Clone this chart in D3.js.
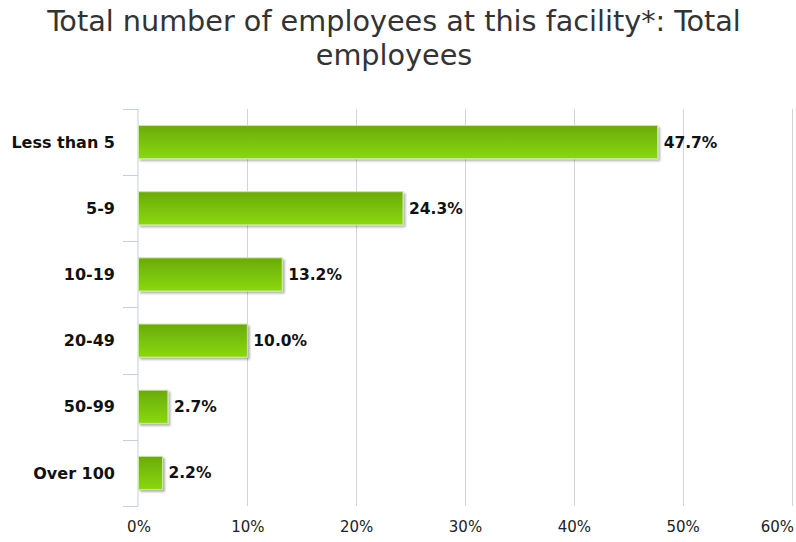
<!DOCTYPE html>
<html><head><meta charset="utf-8">
<script src="https://cdn.jsdelivr.net/npm/d3@7"></script>
<style>body{margin:0;background:#fff;}svg{display:block;}</style>
</head><body><svg id="c" width="796" height="542"></svg>
<script>
const categories = ["Less than 5","5-9","10-19","20-49","50-99","Over 100"];
const values = [47.7,24.3,13.2,10.0,2.7,2.2];
const tickValues = [0,10,20,30,40,50,60];
const titleLines = ["Total number of employees at this facility*: Total","employees"];

const svg = d3.select("#c");
const W = 796, H = 542;
const m = {left:138.5, right:4.5, top:109, bottom:36};
const x = d3.scaleLinear().domain([0,60]).range([m.left, W - m.right]);
const y = d3.scaleBand().domain(categories).range([m.top, H - m.bottom]).paddingInner(0.5).paddingOuter(0.25);

const defs = svg.append("defs");
const g = defs.append("linearGradient").attr("id","bg").attr("x1",0).attr("y1",0).attr("x2",0).attr("y2",1);
g.append("stop").attr("offset","0%").attr("stop-color","#6aab06");
g.append("stop").attr("offset","100%").attr("stop-color","#8ad80a");
const f = defs.append("filter").attr("id","sh").attr("x","-10%").attr("y","-10%").attr("width","130%").attr("height","140%");
f.append("feDropShadow").attr("dx",2).attr("dy",2).attr("stdDeviation",1.2).attr("flood-color","#000").attr("flood-opacity",0.3);

// title
svg.append("g").attr("transform","translate(394,0) scale(1.1,1)")
  .selectAll("text").data(titleLines).join("text")
  .attr("x", 0).attr("y",(d,i)=>31 + i*34)
  .attr("text-anchor","middle")
  .attr("font-family","'DejaVu Sans Condensed','DejaVu Sans',sans-serif")
  .attr("font-size",29).attr("fill","#333").text(d=>d);

// gridlines
svg.append("g").selectAll("line").data(tickValues.filter(d=>d>0)).join("line")
  .attr("x1",d=>Math.round(x(d))+0.5).attr("x2",d=>Math.round(x(d))+0.5)
  .attr("y1",m.top).attr("y2",H-m.bottom)
  .attr("stroke","#d4d4d4").attr("stroke-width",1);

// x axis labels
const xa = svg.append("g").attr("transform",`translate(0,${H-m.bottom})`)
  .call(d3.axisBottom(x).tickValues(tickValues).tickFormat(d=>d+"%").tickSize(0).tickPadding(15));
xa.select(".domain").remove();
xa.selectAll("text").attr("font-family","'DejaVu Sans',sans-serif").attr("font-size",15).attr("fill","#222")
  .filter(d=>d===60).attr("text-anchor","end").attr("dx",2);

// y axis
const ya = svg.append("g").attr("transform",`translate(${m.left - 0.5},0)`);
ya.append("line").attr("x1",0).attr("x2",0).attr("y1",m.top).attr("y2",H-m.bottom).attr("stroke","#c0d0e0");
const bounds = categories.map(c=>y(c) - y.step()*0.25).concat([H-m.bottom]);
ya.selectAll("line.t").data(bounds).join("line").attr("class","t")
  .attr("x1",-15).attr("x2",0).attr("y1",d=>Math.round(d)+0.5).attr("y2",d=>Math.round(d)+0.5)
  .attr("stroke","#c0d0e0");
ya.selectAll("text").data(categories).join("text")
  .attr("x",-23).attr("y",d=>y(d)+y.bandwidth()/2).attr("dy","0.35em")
  .attr("text-anchor","end").attr("font-family","'DejaVu Sans',sans-serif")
  .attr("font-weight","bold").attr("font-size",16).attr("fill","#111").text(d=>d);

// bars
svg.append("g").selectAll("rect").data(values).join("rect")
  .attr("x",x(0)).attr("y",(d,i)=>y(categories[i]))
  .attr("width",d=>x(d)-x(0)).attr("height",y.bandwidth())
  .attr("fill","url(#bg)").attr("stroke","#c8e8a0").attr("stroke-width",1)
  .attr("filter","url(#sh)");

// value labels
svg.append("g").selectAll("text").data(values).join("text")
  .attr("x",d=>x(d)+6).attr("y",(d,i)=>y(categories[i])+y.bandwidth()/2).attr("dy","0.35em")
  .attr("font-family","'DejaVu Sans',sans-serif").attr("font-weight","bold").attr("font-size",15.5)
  .attr("fill","#111").text(d=>d.toFixed(1)+"%");
</script></body></html>
